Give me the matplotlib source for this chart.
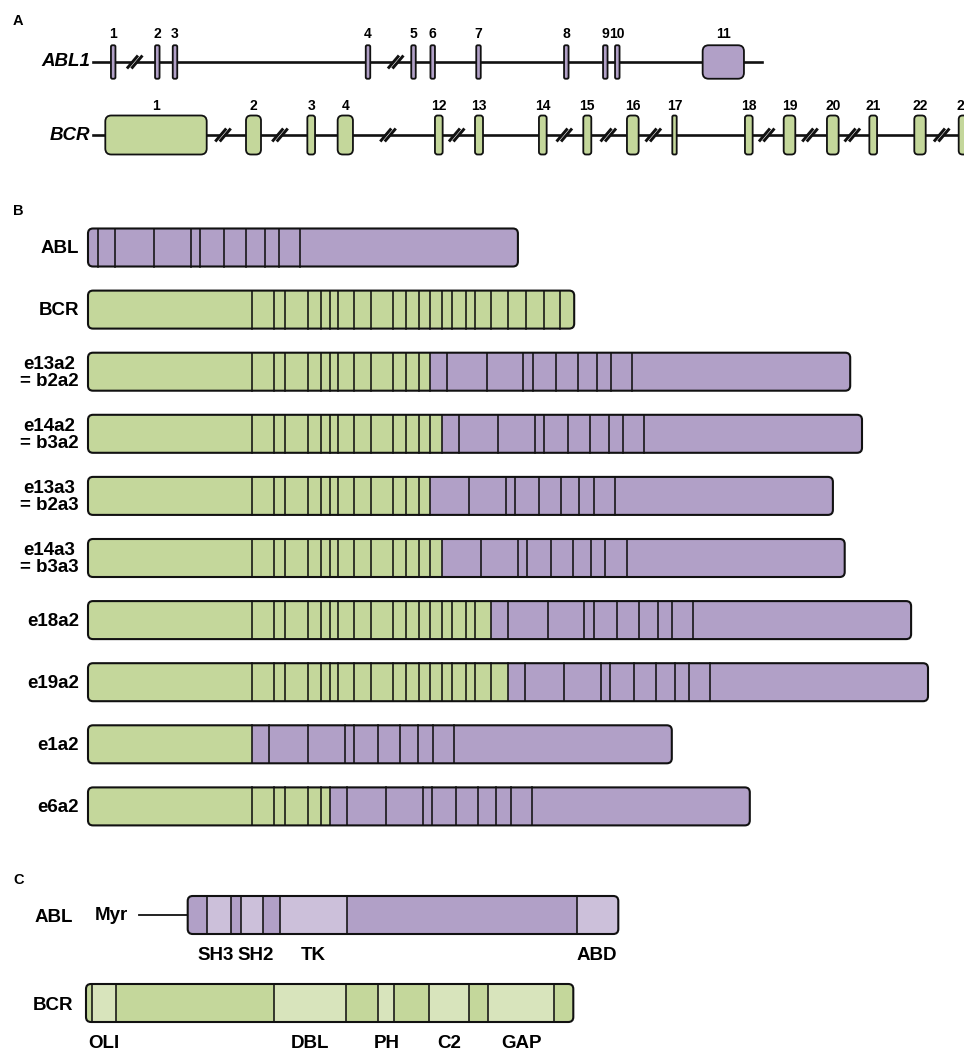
import matplotlib.pyplot as plt
from matplotlib.patches import FancyBboxPatch, Rectangle, Polygon

plt.rcParams['font.family'] = ['Liberation Sans', 'DejaVu Sans']
plt.rcParams['font.weight'] = 'bold'

PURPLE = '#B1A0C7'
GREEN = '#C4D79B'
PURPLE_LIGHT = '#CCC0DA'
GREEN_LIGHT = '#D8E4BC'
INK = '#111111'

# ---- A: gene layout (schematic position along the line, drawn exon width)
abl1_exon_numbers = ['1', '2', '3', '4', '5', '6', '7', '8', '9', '10', '11']
abl1_exon_centres = [113.2, 157.3, 175.0, 368.0, 413.5, 432.7, 478.5, 566.3, 605.3, 617.3, 723.3]
abl1_exon_widths = [4.5, 4.5, 4.5, 4.5, 4.5, 4.5, 4.5, 4.5, 4.5, 4.5, 41.3]
abl1_breaks = [134.7, 395.7]
abl1_span = [93.0, 761.7]

bcr_exon_numbers = ['1', '2', '3', '4', '12', '13', '14', '15', '16', '17',
                    '18', '19', '20', '21', '22', '23']
bcr_exon_centres = [156.0, 253.5, 311.2, 345.3, 438.8, 479.0, 542.8, 587.3, 632.8, 674.5,
                    748.8, 789.5, 832.8, 873.2, 920.0, 964.5]
bcr_exon_widths = [101.4, 15.0, 7.7, 15.3, 7.7, 8.0, 7.7, 8.0, 11.7, 4.4,
                   7.7, 11.6, 11.7, 7.7, 11.4, 11.6]
bcr_breaks = [223.0, 280.0, 388.0, 456.7, 564.3, 608.3, 653.3, 766.7, 810.0, 852.3, 941.7]
bcr_span = [93.0, 980.0]

# ---- B: exon lengths in the transcripts, and the fusion junctions
bcr_exon_len = [163.5, 22.3, 11.3, 22.9, 12.7, 8.8, 8.8, 16.0, 16.9, 21.5, 13.0, 12.8,
                11.4, 11.8, 10.5, 13.3, 9.7, 15.6, 16.9, 18.7, 17.2, 16.1, 14.5]
abl_exon_len = [9.6, 17.3, 39.4, 36.7, 9.3, 23.9, 21.8, 18.5, 14.1, 21.3, 218.0]

transcript_names = ['ABL', 'BCR', 'e13a2\n= b2a2', 'e14a2\n= b3a2', 'e13a3\n= b2a3',
                    'e14a3\n= b3a3', 'e18a2', 'e19a2', 'e1a2', 'e6a2']
bcr_last_exon = [0, 23, 13, 14, 13, 14, 18, 19, 1, 6]     # 0: no BCR part
abl_first_exon = [1, 0, 2, 2, 3, 3, 2, 2, 2, 2]           # 0: no ABL part

# ---- C: protein domains (edges along the protein, shade of each piece)
abl_prot_edges = [187.7, 207.3, 230.7, 241.0, 263.3, 280.0, 346.7, 576.7, 618.3]
abl_prot_light = [False, True, False, True, False, True, False, True]
abl_domain_names = ['SH3', 'SH2', 'TK', 'ABD']
abl_domain_index = [1, 3, 5, 7]

bcr_prot_edges = [86.0, 91.7, 115.7, 274.3, 346.0, 378.3, 394.3, 428.7, 469.3, 488.3, 554.0, 573.3]
bcr_prot_light = [False, True, False, True, False, True, False, True, False, True, False]
bcr_domain_names = ['OLI', 'DBL', 'PH', 'C2', 'GAP']
bcr_domain_index = [1, 3, 5, 7, 9]

fig = plt.figure(figsize=(9.64, 10.5), dpi=100)
ax = fig.add_axes([0, 0, 1, 1])
ax.set_xlim(0, 964)
ax.set_ylim(1050, 0)
ax.axis('off')


def segmented_bar(x0, yc, widths, colors, h=38.0, r=5.0):
    total = sum(widths)
    box = FancyBboxPatch((x0, yc - h / 2), total, h,
                         boxstyle=f'round,pad=0,rounding_size={r}',
                         fc='none', ec=INK, lw=1.5, zorder=5)
    ax.add_patch(box)
    x = x0
    for w, c in zip(widths, colors):
        seg = Rectangle((x, yc - h / 2), w, h, fc=c, ec='none', zorder=2)
        ax.add_patch(seg)
        seg.set_clip_path(box)
        x += w
    x = x0
    for w in widths[:-1]:
        x += w
        ax.plot([x, x], [yc - h / 2, yc + h / 2], color=INK, lw=1.15, zorder=3)


def exon_box(xc, yc, w, h, color):
    r = min(6.0, w / 3.0)
    ax.add_patch(FancyBboxPatch((xc - w / 2, yc - h / 2), w, h,
                                boxstyle=f'round,pad=0,rounding_size={r}',
                                fc=color, ec=INK, lw=1.3, zorder=4))


def break_mark(xc, yc, dx=5.5, dy=6.5, gap=4.5):
    # two slanted strokes with the line cut between them
    pts = [(xc - gap / 2 - dx, yc + dy), (xc - gap / 2 + dx, yc - dy),
           (xc + gap / 2 + dx, yc - dy), (xc + gap / 2 - dx, yc + dy)]
    ax.add_patch(Polygon(pts, closed=True, fc='white', ec='none', zorder=3))
    for s in (-gap / 2, gap / 2):
        ax.plot([xc + s - dx, xc + s + dx], [yc + dy, yc - dy], color=INK, lw=2.1,
                solid_capstyle='butt', zorder=3.5)


def gene_track(name, yc, span, centres, widths, numbers, breaks, color, h, label_y):
    ax.plot(span, [yc, yc], color=INK, lw=1.9, zorder=1)
    for b in breaks:
        break_mark(b, yc)
    for xc, w, n in zip(centres, widths, numbers):
        exon_box(xc, yc, w, h, color)
        ax.text(xc, label_y, n, ha='center', va='center', fontsize=10)
    ax.text(span[0] - 3, yc, name, ha='right', va='center', fontsize=13.5, style='italic')


# ---- A
ax.text(13, 21, 'A', ha='left', va='center', fontsize=10.5)
gene_track('ABL1', 62, abl1_span, abl1_exon_centres, abl1_exon_widths, abl1_exon_numbers,
           abl1_breaks, PURPLE, 33.5, 34)
gene_track('BCR', 135, bcr_span, bcr_exon_centres, bcr_exon_widths, bcr_exon_numbers,
           bcr_breaks, GREEN, 39, 106)

# ---- B
ax.text(13, 211, 'B', ha='left', va='center', fontsize=10.5)
row_top, row_step, bar_x0 = 247.5, 62.1, 88.0
for k, name in enumerate(transcript_names):
    yc = row_top + k * row_step
    widths = bcr_exon_len[:bcr_last_exon[k]]
    colors = [GREEN] * len(widths)
    if abl_first_exon[k]:
        abl_part = abl_exon_len[abl_first_exon[k] - 1:]
        widths = widths + abl_part
        colors = colors + [PURPLE] * len(abl_part)
    segmented_bar(bar_x0, yc, widths, colors)
    ax.text(79, yc + 1, name, ha='right', va='center', fontsize=13.5,
            multialignment='center', linespacing=1.0)

# ---- C
ax.text(13, 880, 'C', ha='left', va='center', fontsize=10.5)
abl_y, bcr_y = 915.0, 1003.0

abl_w = [b - a for a, b in zip(abl_prot_edges[:-1], abl_prot_edges[1:])]
segmented_bar(abl_prot_edges[0], abl_y, abl_w,
              [PURPLE_LIGHT if lt else PURPLE for lt in abl_prot_light])
ax.plot([139.3, abl_prot_edges[0]], [abl_y, abl_y], color=INK, lw=1.3, zorder=1)
ax.text(128, abl_y, 'Myr', ha='right', va='center', fontsize=13.5)
ax.text(73, abl_y + 2, 'ABL', ha='right', va='center', fontsize=13.5)
abl_nudge = [-3, 4, 0, -1]
for name, i, dx in zip(abl_domain_names, abl_domain_index, abl_nudge):
    xc = (abl_prot_edges[i] + abl_prot_edges[i + 1]) / 2 + dx
    ax.text(xc, 955, name, ha='center', va='center', fontsize=13.5)

bcr_w = [b - a for a, b in zip(bcr_prot_edges[:-1], bcr_prot_edges[1:])]
segmented_bar(bcr_prot_edges[0], bcr_y, bcr_w,
              [GREEN_LIGHT if lt else GREEN for lt in bcr_prot_light])
ax.text(73, bcr_y + 2, 'BCR', ha='right', va='center', fontsize=13.5)
for name, i in zip(bcr_domain_names, bcr_domain_index):
    xc = (bcr_prot_edges[i] + bcr_prot_edges[i + 1]) / 2
    ax.text(xc, 1043, name, ha='center', va='center', fontsize=13.5)

fig.savefig('out.png', dpi=100)
